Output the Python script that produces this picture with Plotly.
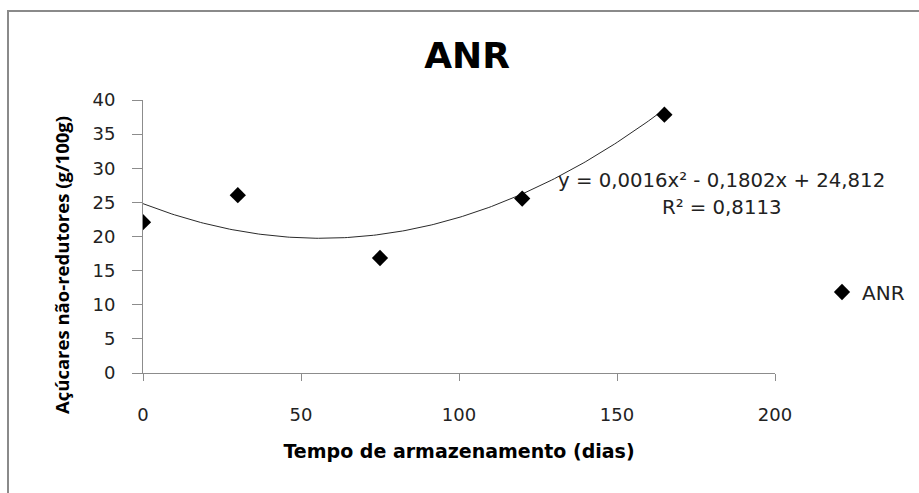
import numpy as np
import plotly.graph_objects as go

# Storage time (days) and non-reducing sugar content (g/100g)
dias = [0, 30, 75, 120, 165]
anr = [22.1, 26.05, 16.85, 25.55, 37.85]

# Quadratic trendline coefficients (a*x^2 + b*x + c) and R^2
coef_a = 0.0016
coef_b = -0.1802
coef_c = 24.812
r2 = 0.8113

x_ticks = [0, 50, 100, 150, 200]
y_ticks = [0, 5, 10, 15, 20, 25, 30, 35, 40]

W, H = 919, 493
L, R, T, B = 143, 144, 100, 120
pw, ph = W - L - R, H - T - B

def px_x(p):
    return (p - L) / pw

def px_y(p):
    return (H - B - p) / ph

xt = np.linspace(min(dias), max(dias), 200)
yt = coef_a * xt**2 + coef_b * xt + coef_c

fig = go.Figure()
fig.add_trace(go.Scatter(
    x=xt, y=yt, mode="lines", line=dict(color="#2a2a2a", width=1),
    showlegend=False, hoverinfo="skip"))
fig.add_trace(go.Scatter(
    x=dias, y=anr, mode="markers", name="ANR",
    marker=dict(symbol="diamond", size=12.5, color="black")))

eq = "y = 0,0016x² - 0,1802x + 24,812"
fig.add_annotation(x=px_x(721), y=px_y(180), xref="paper", yref="paper",
                   text=eq, showarrow=False, xanchor="center", yanchor="middle",
                   font=dict(family="DejaVu Sans", size=19.7, color="#222"))
fig.add_annotation(x=px_x(721), y=px_y(207), xref="paper", yref="paper",
                   text=f"R² = {r2:.4f}".replace(".", ","), showarrow=False,
                   xanchor="center", yanchor="middle",
                   font=dict(family="DejaVu Sans", size=19.7, color="#222"))

# y-axis title, set lower than the plot-area centre
fig.add_annotation(x=px_x(61), y=px_y(265), xref="paper", yref="paper",
                   text="<b>Açúcares não-redutores (g/100g)</b>", textangle=-90,
                   showarrow=False, xanchor="center", yanchor="middle",
                   font=dict(family="Open Sans", size=18.5, color="black"))

# chart-area border
fig.add_shape(type="rect", xref="paper", yref="paper",
              x0=px_x(8), x1=px_x(990), y0=px_y(11), y1=px_y(560),
              line=dict(color="#8a8a8a", width=2), layer="below")

fig.update_layout(
    width=W, height=H, autosize=False,
    margin=dict(l=L, r=R, t=T, b=B, autoexpand=False),
    paper_bgcolor="white", plot_bgcolor="white",
    title=dict(text="<b>ANR</b>", x=467 / W, y=1 - 55 / H, xanchor="center", yanchor="middle",
               xref="container", yref="container",
               font=dict(family="DejaVu Sans", size=36, color="black")),
    showlegend=True,
    legend=dict(x=px_x(822), y=px_y(292), xanchor="left", yanchor="middle",
                xref="paper", yref="paper", bgcolor="rgba(0,0,0,0)",
                font=dict(family="DejaVu Sans", size=20, color="#222"),
                itemwidth=30),
    xaxis=dict(range=[0, 200], tickvals=x_ticks, ticktext=[str(v) for v in x_ticks],
               showgrid=False, zeroline=False, showline=True, linecolor="#8c8c8c", linewidth=1,
               ticks="outside", ticklen=7, tickcolor="#8c8c8c", ticklabelstandoff=18,
               tickfont=dict(family="DejaVu Sans", size=18, color="#222"),
               title=dict(text="<b>Tempo de armazenamento (dias)</b>", standoff=21,
                          font=dict(family="DejaVu Sans", size=19, color="black")),
               automargin=False),
    yaxis=dict(range=[0, 40], tickvals=y_ticks, ticktext=[str(v) for v in y_ticks],
               showgrid=False, zeroline=False, showline=True, linecolor="#8c8c8c", linewidth=1,
               ticks="outside", ticklen=10, tickcolor="#8c8c8c", ticklabelstandoff=13,
               tickfont=dict(family="DejaVu Sans", size=18, color="#222"),
               automargin=False),
)

fig.write_html("out.html")
